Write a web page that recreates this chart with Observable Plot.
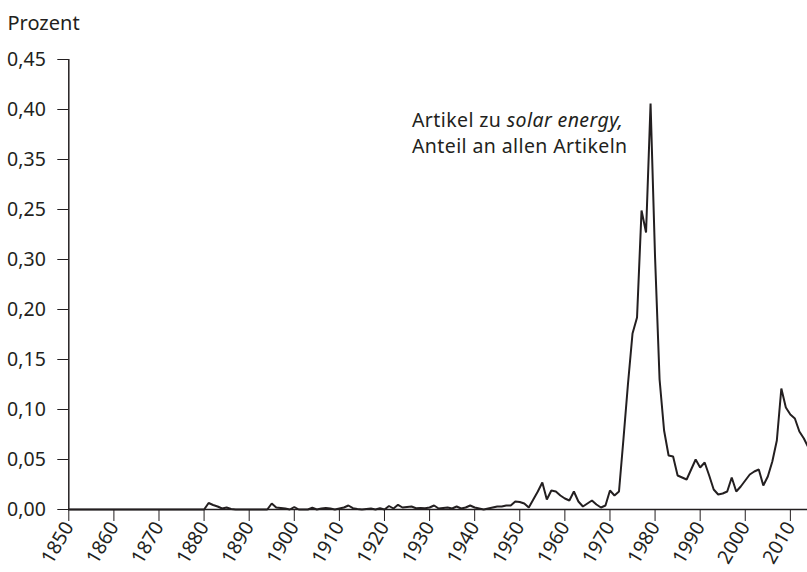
<!DOCTYPE html>
<html>
<head>
<meta charset="utf-8">
<script src="https://cdn.jsdelivr.net/npm/d3@7"></script>
<script src="https://cdn.jsdelivr.net/npm/@observablehq/plot@0.6"></script>
<style>
  body { margin: 0; background: #fff; }
  #chart svg { display: block; }
</style>
</head>
<body>
<div id="chart"></div>
<script>
// --- Data -------------------------------------------------------------
const years = d3.range(1850, 2015);
const shares = [
  0, 0, 0, 0, 0, 0, 0, 0, 0, 0,                                   // 1850
  0, 0, 0, 0, 0, 0, 0, 0, 0, 0,                                   // 1860
  0, 0, 0, 0, 0, 0, 0, 0, 0, 0,                                   // 1870
  0, 0.0065, 0.0045, 0.003, 0.001, 0.002, 0.0005, 0, 0, 0,        // 1880
  0, 0, 0, 0, 0, 0.006, 0.002, 0.0015, 0.001, 0,                  // 1890
  0.0025, 0, 0, 0, 0.0017, 0, 0.001, 0.0015, 0.001, 0,            // 1900
  0.001, 0.002, 0.004, 0.0013, 0.0005, 0, 0.0005, 0.001, 0, 0.0013, // 1910
  0, 0.0035, 0.001, 0.0047, 0.002, 0.0025, 0.003, 0.0013, 0.0015, 0.0013, // 1920
  0.002, 0.004, 0.001, 0.0015, 0.002, 0.001, 0.003, 0.001, 0.002, 0.004, // 1930
  0.002, 0.001, 0, 0.001, 0.002, 0.003, 0.003, 0.004, 0.004, 0.008, // 1940
  0.0075, 0.006, 0.002, 0.010, 0.018, 0.027, 0.010, 0.019, 0.018, 0.014, // 1950
  0.011, 0.009, 0.018, 0.008, 0.003, 0.006, 0.009, 0.005, 0.002, 0.004, // 1960
  0.019, 0.014, 0.018, 0.071, 0.126, 0.176, 0.192, 0.299, 0.277, 0.406, // 1970
  0.252, 0.13, 0.079, 0.054, 0.053, 0.034, 0.032, 0.030, 0.040, 0.050, // 1980
  0.042, 0.047, 0.034, 0.020, 0.015, 0.016, 0.018, 0.032, 0.018, 0.023, // 1990
  0.029, 0.035, 0.038, 0.040, 0.024, 0.033, 0.048, 0.069, 0.121, 0.102, // 2000
  0.095, 0.091, 0.078, 0.071, 0.062                               // 2010
];
const xTicks = [1850, 1860, 1870, 1880, 1890, 1900, 1910, 1920, 1930, 1940, 1950, 1960, 1970, 1980, 1990, 2000, 2010];
const yTicks = [0, 0.05, 0.10, 0.15, 0.20, 0.25, 0.30, 0.35, 0.40, 0.45];
const yTickLabels = ["0,00", "0,05", "0,10", "0,15", "0,20", "0,30", "0,25", "0,35", "0,40", "0,45"];
const yTitle = "Prozent";
const noteLine1Plain = "Artikel zu ";
const noteLine1Italic = "solar energy,";
const noteLine2 = "Anteil an allen Artikeln";
const noteYear = 1926.1;
const noteValue = 0.4018;

// --- Build -------------------------------------------------------------
const data = years.map((year, i) => ({year, share: shares[i]}));
const yLabelMap = new Map(yTicks.map((t, i) => [t, yTickLabels[i]]));
const ink = "#231f20";

const chart = Plot.plot({
  width: 807,
  height: 572,
  marginLeft: 68.3,
  marginRight: 0,
  marginTop: 59,
  marginBottom: 63,
  style: {fontFamily: "'Noto Sans', sans-serif", fontSize: "19.5px", color: ink, background: "#fff"},
  x: {domain: [1850, 2013.8], ticks: xTicks, tickFormat: d => String(d), tickRotate: -60, tickSize: 12, tickPadding: 2, label: null},
  y: {domain: [0, 0.45], ticks: yTicks, tickFormat: d => yLabelMap.get(d), tickSize: 11, tickPadding: 12, label: null},
  marks: [
    Plot.ruleX([1850], {y1: 0, y2: 0.45, stroke: ink, strokeWidth: 1.5}),
    Plot.ruleY([0], {stroke: ink, strokeWidth: 1.5}),
    Plot.line(data, {x: "year", y: "share", stroke: ink, strokeWidth: 2, strokeLinejoin: "miter"}),
    Plot.text([yTitle], {frameAnchor: "top-left", dx: -61.3, dy: -30, textAnchor: "start", lineAnchor: "bottom", fontSize: 20, fill: ink}),
    Plot.text([noteLine1Plain + noteLine1Italic + "\n" + noteLine2], {
      x: () => noteYear, y: () => noteValue, textAnchor: "start", lineAnchor: "top",
      lineHeight: 1.37, fontSize: 19.5, fill: ink, className: "note"
    })
  ]
});

// mixed italic in the first note line; slight tracking to match the reference width
const noteText = chart.querySelector(".note text");
if (noteText) noteText.setAttribute("letter-spacing", "0.4");
const first = chart.querySelector(".note text tspan");
if (first) {
  first.textContent = "";
  const ns = "http://www.w3.org/2000/svg";
  const a = document.createElementNS(ns, "tspan");
  a.textContent = noteLine1Plain;
  const b = document.createElementNS(ns, "tspan");
  b.setAttribute("font-style", "italic");
  b.textContent = noteLine1Italic;
  first.appendChild(a);
  first.appendChild(b);
}
document.getElementById("chart").appendChild(chart);
</script>
</body>
</html>
